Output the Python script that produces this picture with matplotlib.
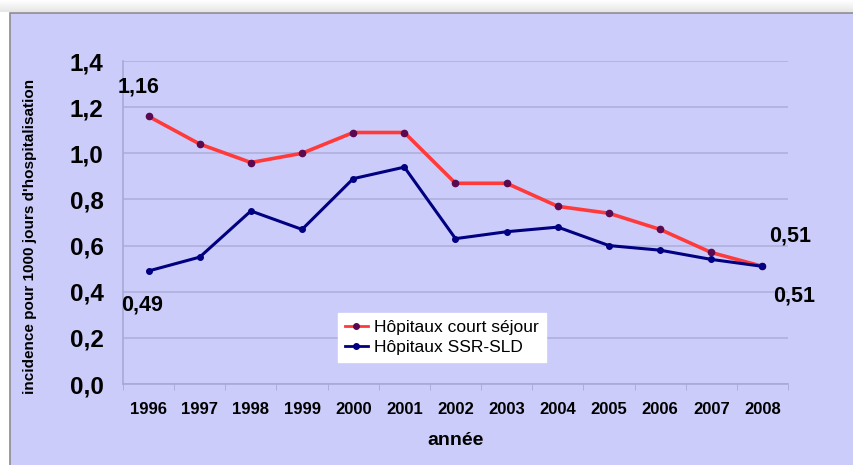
import matplotlib
matplotlib.use("Agg")
import matplotlib.pyplot as plt
from matplotlib.patches import Rectangle
import numpy as np

plt.rcParams['font.family'] = ['Liberation Sans', 'DejaVu Sans']

years = ["1996", "1997", "1998", "1999", "2000", "2001", "2002",
         "2003", "2004", "2005", "2006", "2007", "2008"]
court_sejour = [1.16, 1.04, 0.96, 1.00, 1.09, 1.09, 0.87,
                0.87, 0.77, 0.74, 0.67, 0.57, 0.51]
ssr_sld = [0.49, 0.55, 0.75, 0.67, 0.89, 0.94, 0.63,
           0.66, 0.68, 0.60, 0.58, 0.54, 0.51]
y_ticks = [0.0, 0.2, 0.4, 0.6, 0.8, 1.0, 1.2, 1.4]
series_names = ["Hôpitaux court séjour", "Hôpitaux SSR-SLD"]

W, H = 854, 465
fig = plt.figure(figsize=(W / 100, H / 100), dpi=100)
fig.patch.set_facecolor("white")

# soft grey band across the top
top = fig.add_axes([0, 1 - 12 / H, 1, 12 / H], zorder=-2)
top.imshow(np.linspace(0.90, 1.0, 20).reshape(-1, 1)[::-1] * np.ones((1, 2)),
           cmap="gray", vmin=0, vmax=1, aspect="auto", extent=[0, 1, 0, 1])
top.axis("off")

# lavender panel
panel = Rectangle((10 / W, -0.01), 1.0, 1 - 13 / H + 0.01,
                  transform=fig.transFigure, facecolor="#ccccfb",
                  edgecolor="#8c8c8c", linewidth=1.2, zorder=-1)
fig.patches.append(panel)

ax = fig.add_axes([123 / W, 1 - 384 / H, (788 - 123) / W, (384 - 61) / H], zorder=1)
ax.set_facecolor("none")
x = np.arange(len(years))

ax.plot(x, court_sejour, color="#ff3a3a", linewidth=2.6, zorder=3,
        marker="o", markersize=4.5, markerfacecolor="#5a0a50",
        markeredgecolor="#5a0a50", label=series_names[0])
ax.plot(x, ssr_sld, color="#000080", linewidth=2.2, zorder=4,
        marker="o", markersize=4, markerfacecolor="#000080",
        markeredgecolor="#000080", label=series_names[1])

ax.set_xlim(-0.5, len(years) - 0.5)
ax.set_ylim(0, 1.4)
ax.set_yticks(y_ticks)
ax.set_yticklabels([f"{v:.1f}".replace(".", ",") for v in y_ticks],
                   fontsize=17.5, fontweight="bold")
ax.set_xticks(x)
ax.set_xticklabels(years, fontsize=12, fontweight="bold")
ax.set_xticks(np.arange(len(years) + 1) - 0.5, minor=True)
ax.tick_params(axis="x", which="major", length=0, pad=13)
ax.tick_params(axis="x", which="minor", length=4, color="#a8a8d8")
ax.tick_params(axis="y", length=0, pad=14)

ax.grid(axis="y", color="#b0b0dc", linewidth=1.2)
ax.set_axisbelow(True)
for s in ["top", "right"]:
    ax.spines[s].set_visible(False)
ax.spines["left"].set_color("#a8a8d8")
ax.spines["bottom"].set_color("#a8a8d8")
ax.spines["left"].set_linewidth(1.2)
ax.spines["bottom"].set_linewidth(1.2)

ax.set_xlabel("année", fontsize=14, fontweight="bold", labelpad=11)
ax.set_ylabel("incidence pour 1000 jours d'hospitalisation",
              fontsize=11, fontweight="bold")
ax.yaxis.set_label_coords(-0.129, 0.458)

def fmt(v):
    return f"{v:.2f}".replace(".", ",")

label_style = dict(textcoords="offset points", fontsize=15.5, fontweight="bold",
                   ha="center", va="center")
ax.annotate(fmt(court_sejour[0]), (x[0], court_sejour[0]), xytext=(-7, 21), **label_style)
ax.annotate(fmt(ssr_sld[0]), (x[0], ssr_sld[0]), xytext=(-5, -24.5), **label_style)
ax.annotate(fmt(court_sejour[-1]), (x[-1], court_sejour[-1]), xytext=(20, 22), **label_style)
ax.annotate(fmt(ssr_sld[-1]), (x[-1], ssr_sld[-1]), xytext=(23, -21), **label_style)

leg = ax.legend(loc="upper left", bbox_to_anchor=((338 - 123) / 665, (384 - 313) / 323),
                fontsize=12.5, frameon=True, fancybox=False, handlelength=1.3,
                handletextpad=0.4, borderpad=0.4, labelspacing=0.25,
                borderaxespad=0)
leg.get_frame().set_facecolor("white")
leg.get_frame().set_edgecolor("white")
leg.get_frame().set_alpha(1)
for h in leg.get_lines():
    h.set_linewidth(2)
    h.set_markersize(4)

fig.savefig("out.png", dpi=100)
